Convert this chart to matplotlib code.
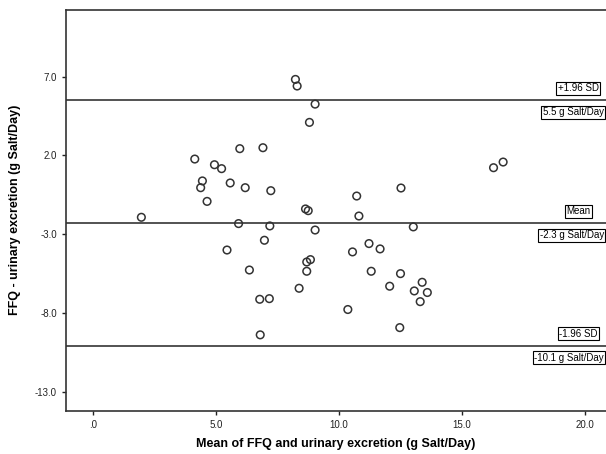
import matplotlib
matplotlib.use('Agg')
import matplotlib.pyplot as plt

# Bland-Altman data
mean_salt = [8.23, 8.30, 9.03, 8.80, 5.97, 6.91, 4.14, 4.94, 5.23, 4.45,
             4.38, 5.58, 6.19, 7.23, 4.64, 1.97, 16.28, 16.67, 12.52, 10.72,
             10.81, 8.64, 8.75, 5.92, 7.19, 9.03, 13.02, 6.97, 5.45, 11.22,
             11.67, 10.55, 8.84, 8.69, 6.36, 8.69, 11.31, 12.50, 8.38, 12.06,
             13.38, 13.06, 13.59, 13.30, 6.78, 7.17, 10.36, 12.47, 6.80]
diff_salt = [6.83, 6.41, 5.26, 4.10, 2.43, 2.49, 1.77, 1.41, 1.16, 0.38,
             -0.05, 0.25, -0.05, -0.24, -0.92, -1.93, 1.22, 1.58, -0.07, -0.58,
             -1.85, -1.40, -1.51, -2.33, -2.48, -2.74, -2.54, -3.39, -4.01, -3.60,
             -3.94, -4.13, -4.62, -4.77, -5.28, -5.36, -5.36, -5.51, -6.44, -6.31,
             -6.06, -6.61, -6.71, -7.29, -7.14, -7.10, -7.79, -8.94, -9.40]

ref_values = [5.5, -2.3, -10.1]
ref_names = ['+1.96 SD', 'Mean', '-1.96 SD']
ref_texts = ['5.5 g Salt/Day', '-2.3 g Salt/Day', '-10.1 g Salt/Day']

x_ticks = [0, 5, 10, 15, 20]
x_tick_labels = ['.0', '5.0', '10.0', '15.0', '20.0']
y_ticks = [7, 2, -3, -8, -13]
y_tick_labels = ['7.0', '2.0', '-3.0', '-8.0', '-13.0']

plt.rcParams['font.family'] = ['Liberation Sans', 'DejaVu Sans']

fig = plt.figure(figsize=(6.06, 4.54), dpi=100)
ax = fig.add_axes([0.109, 0.095, 0.891, 0.884])

ax.scatter(mean_salt, diff_salt, s=30, facecolors='none', edgecolors='#333333',
           linewidths=1.1, zorder=3)

box = dict(boxstyle='square,pad=0.15', facecolor='white', edgecolor='black', linewidth=0.8)
for val, name, txt in zip(ref_values, ref_names, ref_texts):
    ax.axhline(val, color='#444444', linewidth=1.3, zorder=2)
    ax.annotate(name, xy=(1.0, val), xycoords=('axes fraction', 'data'),
                xytext=(-20, 5), textcoords='offset points', ha='center', va='bottom',
                fontsize=7, bbox=box)
    ax.annotate(txt, xy=(1.0, val), xycoords=('axes fraction', 'data'),
                xytext=(-1.5, -5), textcoords='offset points', ha='right', va='top',
                fontsize=7, bbox=box)

ax.set_xlim(-1.09, 20.85)
ax.set_ylim(-14.23, 11.27)
ax.set_xticks(x_ticks)
ax.set_xticklabels(x_tick_labels)
ax.set_yticks(y_ticks)
ax.set_yticklabels(y_tick_labels)
ax.tick_params(axis='both', labelsize=7, direction='out', length=3, width=1, colors='#222222')

for spine in ax.spines.values():
    spine.set_linewidth(1.2)
    spine.set_color('#333333')
ax.spines['right'].set_visible(False)

ax.set_xlabel('Mean of FFQ and urinary excretion (g Salt/Day)', fontsize=9,
              fontweight='bold', labelpad=6)
ax.set_ylabel('FFQ - urinary excretion (g Salt/Day)', fontsize=9,
              fontweight='bold', labelpad=10)

fig.savefig('out.png', dpi=100)
